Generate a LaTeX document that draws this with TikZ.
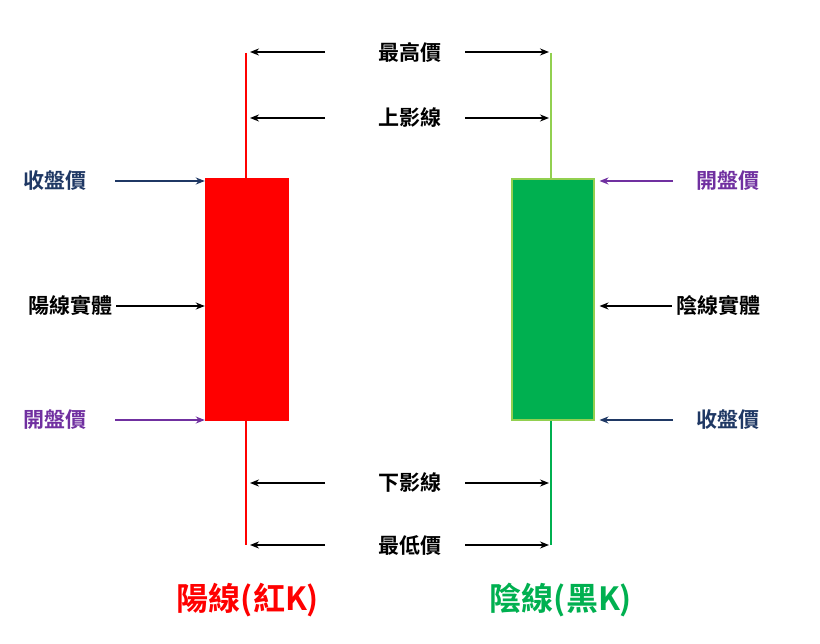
\documentclass[tikz,border=0pt]{standalone}
\usepackage{fontspec}
\newfontfamily\cjk{Noto Sans CJK TC}[BoldFont={Noto Sans CJK TC Bold}]
\usetikzlibrary{arrows.meta}
\definecolor{dblue}{HTML}{1F3864}
\definecolor{purp}{HTML}{7030A0}
\definecolor{lgreen}{HTML}{92D050}
\definecolor{dgreen}{HTML}{00B050}
\begin{document}
\begin{tikzpicture}[x=1pt,y=-1pt,
  lab/.style={font=\cjk\bfseries\fontsize{21}{24}\selectfont, inner sep=0pt},
  big/.style={font=\cjk\bfseries\fontsize{32}{36}\selectfont, inner sep=0pt},
  arr/.style={-{Stealth[length=9pt,width=7pt]}, line width=2.2pt}]
\useasboundingbox (0,0) rectangle (820,644);
% red candle
\coordinate (rt) at (246,53); \coordinate (rb) at (246,545);
\draw[red, line width=2pt] (rt) -- (rb);
\node[fill=red, minimum width=84pt, minimum height=243pt, inner sep=0pt] (rbody) at (247,299.5) {};
% green candle
\coordinate (gt) at (551,53); \coordinate (gb) at (551,545);
\draw[lgreen, line width=2pt] (gt) -- (551,178);
\draw[dgreen, line width=2pt] (551,421) -- (gb);
\node[fill=dgreen, draw=lgreen, line width=2pt, minimum width=82pt, minimum height=241pt, inner sep=0pt] (gbody) at (552.5,299.5) {};
% middle labels
\foreach \t/\y/\n in {最高價/52/a,上影線/118/b,下影線/483/c,最低價/545/d}{
  \node[lab] (\n) at (410,\y) {\t};
  \coordinate (\n l) at (250,\y); \coordinate (\n r) at (549,\y);
  \draw[arr] (325,\y) -- (\n l);
  \draw[arr] (465,\y) -- (\n r);
}
% left labels
\node[lab, text=dblue] (lc) at (55,181) {收盤價};
\draw[arr, dblue] (115,181) -- (rbody.west |- lc);
\node[lab] (lm) at (70,306) {陽線實體};
\draw[arr] (lm.east) ++(4,0) -- (rbody.west |- lm);
\node[lab, text=purp] (lo) at (55,420) {開盤價};
\draw[arr, purp] (115,420) -- (rbody.west |- lo);
% right labels
\node[lab, text=purp] (ro) at (728,181) {開盤價};
\draw[arr, purp] (673,181) -- ([xshift=5pt]gbody.east |- ro);
\node[lab] (rm) at (718,306) {陰線實體};
\draw[arr] (rm.west) ++(-4,0) -- ([xshift=5pt]gbody.east |- rm);
\node[lab, text=dblue] (rc) at (728,420) {收盤價};
\draw[arr, dblue] (673,420) -- ([xshift=5pt]gbody.east |- rc);
% bottom
\node[big, text=red] (bl) at (248,600) {陽線(紅K)};
\node[big, text=dgreen] (bg) at (561,600) {陰線(黑K)};
\end{tikzpicture}
\end{document}
